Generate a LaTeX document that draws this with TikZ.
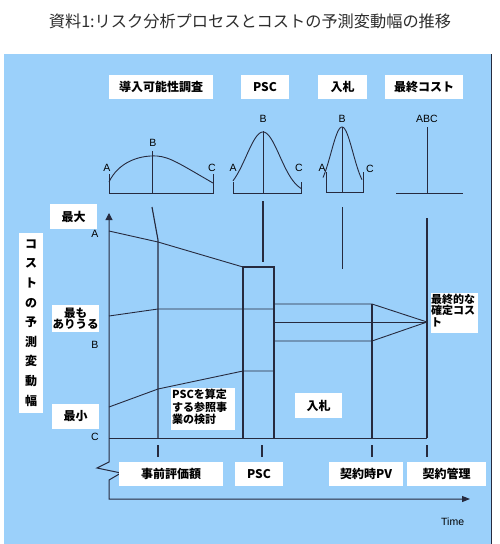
\documentclass[tikz,border=0pt]{standalone}
\usepackage{fontspec}
\newfontfamily\jp{Noto Sans CJK JP}
\newfontfamily\lat{Liberation Sans}
\usetikzlibrary{arrows.meta}
\definecolor{bgc}{RGB}{155,208,250}
\definecolor{lnc}{RGB}{38,42,62}
\definecolor{ttc}{RGB}{45,45,45}
\begin{document}
\begin{tikzpicture}[x=1pt,y=-1pt,
  ln/.style={draw=lnc, line width=0.9pt},
  thk/.style={draw=lnc, line width=1.15pt},
  lbl/.style={fill=white, inner sep=0pt, font=\jp\bfseries\fontsize{12}{14}\selectfont, align=center},
  sml/.style={fill=white, inner sep=1pt, font=\jp\bfseries\fontsize{11}{12.5}\selectfont, align=left, anchor=north west},
  abc/.style={font=\lat\fontsize{10.5}{12}\selectfont, inner sep=0pt, text=black}]
\useasboundingbox (0,0) rectangle (499,544);
\fill[bgc] (4,54) rectangle (491,544);
\draw[lnc, line width=1pt] (491.5,54) -- (491.5,544);

\node[font=\jp\fontsize{16.2}{18}\selectfont, text=ttc] (title) at (250,21) {資料1:リスク分析プロセスとコストの予測変動幅の推移};

% ---------- distributions ----------
% feasibility study
\draw[ln] (109,174) -- (109,193) -- (213,193) -- (213,174);
\draw[ln] (152,151) -- (152,193);
\draw[ln] (109,182) .. controls (118,163) and (138,155) .. (157,156) .. controls (170,157) and (180,164) .. (213,183);
\node[abc] (d1a) at (107,168) {A};
\node[abc] (d1b) at (153,143) {B};
\node[abc] (d1c) at (212,168) {C};
% PSC
\draw[ln] (233,182) -- (233,193) -- (301,193) -- (301,182);
\draw[ln] (263,131) -- (263,193);
\draw[ln] plot[domain=233:301,samples=70,smooth] (\x,{193-61*exp(-((\x-263)^2)/560)});
\node[abc] (d2a) at (233,168) {A};
\node[abc] (d2b) at (263,119) {B};
\node[abc] (d2c) at (299,168) {C};
% bid
\draw[ln] (326,172) -- (326,192) -- (363,192) -- (363,172);
\draw[ln] (342,127) -- (342,192);
\draw[ln] plot[domain=323:362,samples=60,smooth] (\x,{192-65*exp(-((\x-342)^2)/240)});
\node[abc] (d3a) at (322,168) {A};
\node[abc] (d3b) at (342,119) {B};
\node[abc] (d3c) at (370,169) {C};
% final
\draw[ln] (396,193) -- (463,193);
\draw[ln] (427,127) -- (427,193);
\node[abc] (d4) at (427,119) {ABC};

% ---------- chart ----------
\coordinate (ytop) at (109,213);
\coordinate (tend) at (470,499);
\coordinate (org) at (109,499);
\draw[lnc, line width=1pt, {Triangle[length=7pt,width=7pt]}-{Triangle[length=8pt,width=6pt]}]
  (ytop) -- (109,462) -- (97,468) -- (121,473) -- (109,480) -- (org) -- (tend);

\coordinate (a0) at (109,231);
\coordinate (a1) at (158,242);
\coordinate (a2) at (243,267);
\coordinate (p1) at (274,267);
\coordinate (m0) at (109,316);
\coordinate (m1) at (158,309);
\coordinate (m2) at (274,309);
\coordinate (l0) at (109,407);
\coordinate (l1) at (158,389);
\coordinate (l2) at (243,371);
\coordinate (l3) at (274,371);
\coordinate (r0) at (274,304);
\coordinate (r1) at (372,304);
\coordinate (r2) at (274,322);
\coordinate (r3) at (274,341);
\coordinate (r4) at (372,341);
\coordinate (fin) at (427,322);

\draw[ln] (109,438) -- (427,438);
\draw[ln] (a0) -- (a1) -- (a2);
\draw[thk] (243,438) -- (a2) -- (p1) -- (274,438);
\draw[ln] (m0) -- (m1) -- (m2);
\draw[ln] (l0) -- (l1) -- (l2) -- (l3);
\draw[thk] (152,207) -- (158,240) -- (158,438);
\draw[ln] (r0) -- (r1) -- (fin);
\draw[ln] (r3) -- (r4) -- (fin);
\draw[ln] (r2) -- (fin);
\draw[thk] (r1) -- (372,438);
\draw[thk] (427,218) -- (427,438);
\draw[thk] (263,201) -- (263,262);
\draw[ln] (342,207) -- (342,269);
\foreach \t in {158,262,372,427} \draw[thk] (\t,445) -- (\t,457);

\node[abc] (ya) at (95,234) {A};
\node[abc] (yb) at (95,345) {B};
\node[abc] (yc) at (95,437) {C};
\node[abc, anchor=west] (time) at (441,522) {Time};

% ---------- label boxes ----------
\node[lbl, minimum width=104pt, minimum height=24pt] (h1) at (161,87) {導入可能性調査};
\node[lbl, minimum width=48pt, minimum height=24pt] (h2) at (265,87) {PSC};
\node[lbl, minimum width=49pt, minimum height=24pt] (h3) at (342.5,87) {入札};
\node[lbl, minimum width=78pt, minimum height=24pt] (h4) at (424,87) {最終コスト};

\node[lbl, minimum width=104pt, minimum height=24pt] (b1) at (171,474) {事前評価額};
\node[lbl, minimum width=48pt, minimum height=24pt] (b2) at (259,474) {PSC};
\node[lbl, minimum width=74pt, minimum height=24pt] (b3) at (366,474) {契約時PV};
\node[lbl, minimum width=79pt, minimum height=24pt] (b4) at (446.5,474) {契約管理};

\node[lbl, minimum width=47pt, minimum height=25pt] (mx) at (73.5,216.5) {最大};
\node[lbl, minimum width=47pt, minimum height=27pt, font=\jp\bfseries\fontsize{11.5}{11}\selectfont] (ml) at (75.5,318.5) {最も\\ありうる};
\node[lbl, minimum width=47pt, minimum height=25pt] (mn) at (75.5,416.5) {最小};
\node[lbl, minimum width=24pt, minimum height=180pt, font=\jp\bfseries\fontsize{12}{19.6}\selectfont] (vl) at (31,323) {コ\\ス\\ト\\の\\予\\測\\変\\動\\幅};

\fill[white] (171,388) rectangle (235,430);
\node[sml, fill=none] (psc) at (171,388) {PSCを算定\\する参照事\\業の検討};
\node[lbl, minimum width=47pt, minimum height=25pt] (bid) at (318.5,405.5) {入札};
\fill[white] (431,293) rectangle (478,333);
\node[sml, fill=none, font=\jp\bfseries\fontsize{11}{11.5}\selectfont, inner sep=0.5pt] (fc) at (430.5,293) {最終的な\\確定コス\\ト};
\end{tikzpicture}
\end{document}
